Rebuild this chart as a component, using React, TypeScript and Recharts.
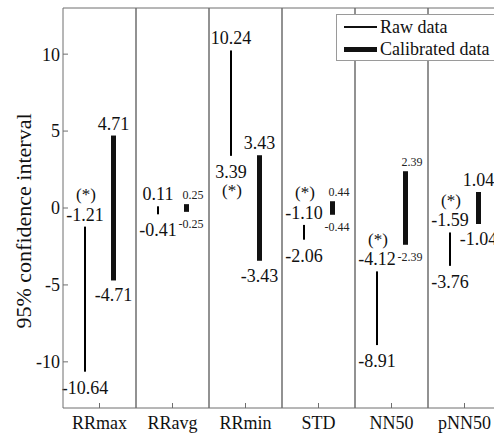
import React from "react";
import { BarChart, Bar, XAxis, YAxis, CartesianGrid } from "recharts";

const categories = ["RRmax", "RRavg", "RRmin", "STD", "NN50", "pNN50"];
const rawLow = [-10.64, -0.41, 3.39, -2.06, -8.91, -3.76];
const rawHigh = [-1.21, 0.11, 10.24, -1.1, -4.12, -1.59];
const calLow = [-4.71, -0.25, -3.43, -0.44, -2.39, -1.04];
const calHigh = [4.71, 0.25, 3.43, 0.44, 2.39, 1.04];
const significant = [true, false, true, true, true, true];
const yTicks = [-10, -5, 0, 5, 10];

// calibrated labels printed in the small font
const smallCalLabels = ["RRavg", "STD", "NN50"];

const FONT = "'Liberation Serif', 'Times New Roman', serif";
const AXIS = "#6e6e6e";

const data = categories.map((name, i) => ({
  name,
  raw: [rawLow[i], rawHigh[i]],
  cal: [calLow[i], calHigh[i]],
  sig: significant[i],
}));

function RawShape(props: any) {
  const { x, y, width, height, payload } = props;
  const top = Math.min(y, y + height);
  const bottom = Math.max(y, y + height);
  const cx = x + width / 2;
  const [lo, hi] = payload.raw;
  // the (*) goes next to the end nearest zero
  const starAbove = Math.abs(hi) <= Math.abs(lo);
  const txt = { fontFamily: FONT, fontSize: 18, fill: "#111", textAnchor: "middle" as const, dominantBaseline: "central" as const };
  return (
    <g>
      <rect x={x} y={top} width={width} height={bottom - top} fill="#000" />
      <text x={cx} y={top - 12} {...txt}>{hi.toFixed(2)}</text>
      <text x={cx} y={bottom + 16} {...txt}>{lo.toFixed(2)}</text>
      {payload.sig && (
        <text x={cx + 1} y={starAbove ? top - 32 : bottom + 35} {...txt} fontSize={17}>
          (*)
        </text>
      )}
    </g>
  );
}

function CalShape(props: any) {
  const { x, y, width, height, payload } = props;
  const top = Math.min(y, y + height);
  const bottom = Math.max(y, y + height);
  const cx = x + width / 2;
  const [lo, hi] = payload.cal;
  const small = smallCalLabels.includes(payload.name);
  if (small) {
    const t = { fontFamily: FONT, fontSize: 12, fill: "#222", textAnchor: "start" as const, dominantBaseline: "central" as const };
    return (
      <g>
        <rect x={x} y={top} width={width} height={bottom - top} fill="#111" />
        <text x={cx - (hi < 0 ? 8 : 4)} y={top - 9} {...t}>{hi.toFixed(2)}</text>
        <text x={cx - (lo < 0 ? 8 : 4)} y={bottom + 12} {...t}>{lo.toFixed(2)}</text>
      </g>
    );
  }
  const t = { fontFamily: FONT, fontSize: 18, fill: "#111", textAnchor: "middle" as const, dominantBaseline: "central" as const };
  return (
    <g>
      <rect x={x} y={top} width={width} height={bottom - top} fill="#111" />
      <text x={cx} y={top - 12} {...t}>{hi.toFixed(2)}</text>
      <text x={cx} y={bottom + 15} {...t}>{lo.toFixed(2)}</text>
    </g>
  );
}

function YLabel() {
  return (
    <text
      transform="translate(31,221) rotate(-90)"
      textAnchor="middle"
      fontFamily={FONT}
      fontSize={22}
      fill="#111"
    >
      95% confidence interval
    </text>
  );
}

function LegendBox() {
  const row = { display: "flex", alignItems: "center", height: 22, whiteSpace: "nowrap" as const };
  return (
    <div
      style={{
        position: "absolute",
        left: 336,
        top: 14,
        width: 180,
        height: 47,
        boxSizing: "border-box",
        border: "1px solid #9a9a9a",
        background: "#fff",
        padding: "1px 0 0 7px",
        fontFamily: FONT,
        fontSize: 18,
        color: "#111",
      }}
    >
      <div style={row}>
        <span style={{ display: "inline-block", width: 33, borderTop: "2px solid #111", marginRight: 3 }} />
        Raw data
      </div>
      <div style={row}>
        <span style={{ display: "inline-block", width: 33, borderTop: "5px solid #111", marginRight: 3 }} />
        Calibrated data
      </div>
    </div>
  );
}

export default function App() {
  const tickStyle = { fontFamily: FONT, fontSize: 18, fill: "#111" };
  return (
    <div style={{ position: "fixed", left: 0, top: 0, width: 494, height: 434, overflow: "hidden", background: "#fff" }}>
      <BarChart
        width={520}
        height={434}
        data={data}
        margin={{ top: 7, right: 19, left: 0, bottom: 0 }}
        barGap={25}
      >
        <CartesianGrid
          horizontal={false}
          stroke={AXIS}
          strokeWidth={1.5}
          verticalCoordinatesGenerator={({ offset }: any) =>
            [1, 2, 3, 4, 5].map((k) => offset.left + (offset.width * k) / 6)
          }
        />
        <XAxis
          xAxisId="top"
          orientation="top"
          dataKey="name"
          height={1}
          tick={false}
          tickSize={-5}
          axisLine={{ stroke: AXIS }}
          tickLine={{ stroke: AXIS }}
        />
        <XAxis
          dataKey="name"
          height={26}
          tickSize={-5}
          tickMargin={13}
          tick={tickStyle}
          axisLine={{ stroke: AXIS }}
          tickLine={{ stroke: AXIS }}
        />
        <YAxis
          width={63}
          domain={[-13, 13]}
          ticks={yTicks}
          tickSize={-5}
          tickMargin={8}
          tick={tickStyle}
          axisLine={{ stroke: AXIS }}
          tickLine={{ stroke: AXIS }}
          label={<YLabel />}
        />
        <Bar dataKey="raw" barSize={2} shape={<RawShape />} isAnimationActive={false} />
        <Bar dataKey="cal" barSize={5} shape={<CalShape />} isAnimationActive={false} />
      </BarChart>
      <LegendBox />
    </div>
  );
}
